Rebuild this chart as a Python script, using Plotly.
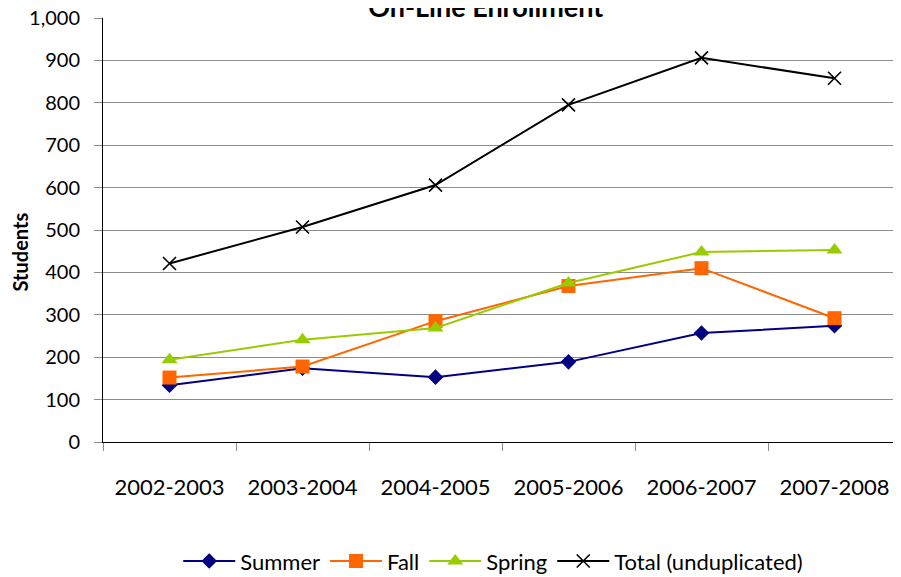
import plotly.graph_objects as go

years = ["2002-2003", "2003-2004", "2004-2005", "2005-2006", "2006-2007", "2007-2008"]
summer = [134, 174, 153, 189, 257, 274]
fall = [152, 178, 285, 368, 410, 292]
spring = [194, 241, 269, 375, 448, 453]
total = [421, 507, 606, 795, 906, 858]

fig = go.Figure()
fig.add_trace(go.Scatter(x=years, y=summer, name="Summer", mode="lines+markers",
                         line=dict(color="#000080", width=2),
                         marker=dict(symbol="diamond", size=12, color="#000080")))
fig.add_trace(go.Scatter(x=years, y=fall, name="Fall", mode="lines+markers",
                         line=dict(color="#FF6600", width=2),
                         marker=dict(symbol="square", size=14, color="#FF6600")))
fig.add_trace(go.Scatter(x=years, y=spring, name="Spring", mode="lines+markers",
                         line=dict(color="#99CC00", width=2),
                         marker=dict(symbol="triangle-up", size=14, color="#99CC00")))
fig.add_trace(go.Scatter(x=years, y=total, name="Total (unduplicated)", mode="lines+markers",
                         line=dict(color="#000000", width=2),
                         marker=dict(symbol="x-thin", size=13, color="#000000",
                                     line=dict(width=1.6, color="#000000"))))

fig.add_annotation(text="<b>Students</b>", xref="paper", yref="paper",
                   x=-0.1035, y=0.448, xanchor="center", yanchor="middle",
                   textangle=-90, showarrow=False, font=dict(size=20))

fig.update_layout(
    width=893, height=569,
    margin=dict(l=95, r=0, t=10, b=135, autoexpand=False),
    paper_bgcolor="white", plot_bgcolor="white",
    font=dict(family="Lato, Noto Sans, sans-serif", color="black"),
    title=dict(text="<b>On-Line Enrollment</b>", x=0.535, xanchor="center",
               y=1.0, yref="container", yanchor="middle", font=dict(size=27)),
    showlegend=True,
    legend=dict(orientation="h", x=0.489, xanchor="center", y=-0.281, yanchor="middle",
                font=dict(size=22), itemwidth=52, traceorder="normal"),
    yaxis=dict(range=[0, 1000], dtick=100, tickformat=",", showgrid=True,
               gridcolor="#8c8c8c", gridwidth=1, showline=True, linecolor="black",
               ticks="outside", ticklen=8, tickcolor="#8c8c8c", ticklabelstandoff=10,
               ticklabeloverflow="allow",
               tickfont=dict(size=20), zeroline=False, automargin=False),
    xaxis=dict(showgrid=False, showline=True, linecolor="black",
               ticks="outside", ticklen=8, tickcolor="#8c8c8c", tickson="boundaries",
               ticklabelstandoff=26, automargin=False, ticklabeloverflow="allow",
               tickfont=dict(size=22), zeroline=False, range=[-0.5, 5.5]),
)
fig.write_html("out.html")
